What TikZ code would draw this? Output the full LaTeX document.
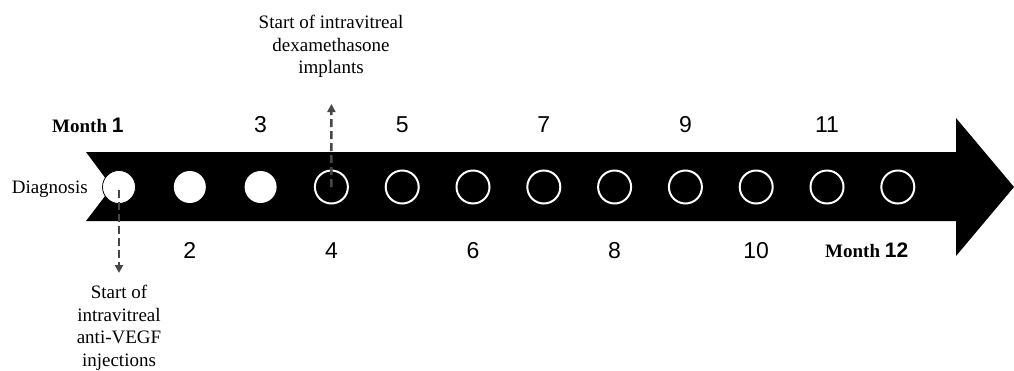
\documentclass[tikz,border=0pt]{standalone}
\usepackage{fontspec}
\setmainfont{Liberation Serif}
\newfontfamily\numfont{Liberation Sans}
\usetikzlibrary{arrows.meta}
\begin{document}
\begin{tikzpicture}[x=1pt,y=-1pt,
  lbl/.style={font=\fontsize{19}{22.5}\selectfont, align=center, inner sep=0pt},
  num/.style={font=\numfont\fontsize{23}{23}\selectfont, inner sep=0pt, anchor=base},
  month/.style={font=\fontsize{19}{19}\selectfont\bfseries, inner sep=0pt, anchor=base west},
  filledc/.style={circle, fill=white, minimum size=32pt, inner sep=0pt},
  openc/.style={circle, draw=white, line width=2pt, fill=black, minimum size=33pt, inner sep=0pt},
  dasharrow/.style={draw=black!72, line width=2.4pt, dash pattern=on 8pt off 4pt, -{Triangle[length=8pt,width=8pt]}}]
\useasboundingbox (0,0) rectangle (1014,370);
% big arrow
\fill[black] (86,152) -- (956,152) -- (956,118) -- (1014,187) -- (956,256) -- (956,221) -- (86,221) -- (112,187) -- cycle;
% circles
\node[filledc, draw=black, line width=0.8pt, minimum size=33pt] (c1) at (119,187) {};
\node[filledc] (c2) at (189.8,187) {};
\node[filledc] (c3) at (260.6,187) {};
\foreach \i in {4,...,12} {
  \node[openc] (c\i) at ({119+(\i-1)*70.8},187) {};
}
% numbers
\node[month] (n1) at (52,132) {Month {\numfont\fontsize{21}{21}\selectfont 1}};
\node[num] (n2) at (189.8,258) {2};
\node[num] (n3) at (260.6,132) {3};
\node[num] (n4) at (331.4,258) {4};
\node[num] (n5) at (402.2,132) {5};
\node[num] (n6) at (473,258) {6};
\node[num] (n7) at (543.8,132) {7};
\node[num] (n8) at (614.6,258) {8};
\node[num] (n9) at (685.4,132) {9};
\node[num] (n10) at (756.2,258) {10};
\node[num] (n11) at (827,132) {11};
\node[month] (n12) at (825,257) {Month {\numfont\fontsize{21}{21}\selectfont 12}};
% labels
\node[lbl, anchor=base east] (diag) at (88,193) {Diagnosis};
\node[lbl, anchor=north] (antivegf) at (119,285) {Start of\\intravitreal\\anti-VEGF\\injections};
\node[lbl, anchor=north] (dexa) at (331,15) {Start of intravitreal\\dexamethasone\\implants};
% dashed arrows
\coordinate (a1) at (119,273);
\coordinate (a2) at (331.4,104);
\draw[dasharrow] (c1.center) ++(0,3) -- (a1);
\draw[dasharrow] (c4.center) -- (a2);
\end{tikzpicture}
\end{document}
